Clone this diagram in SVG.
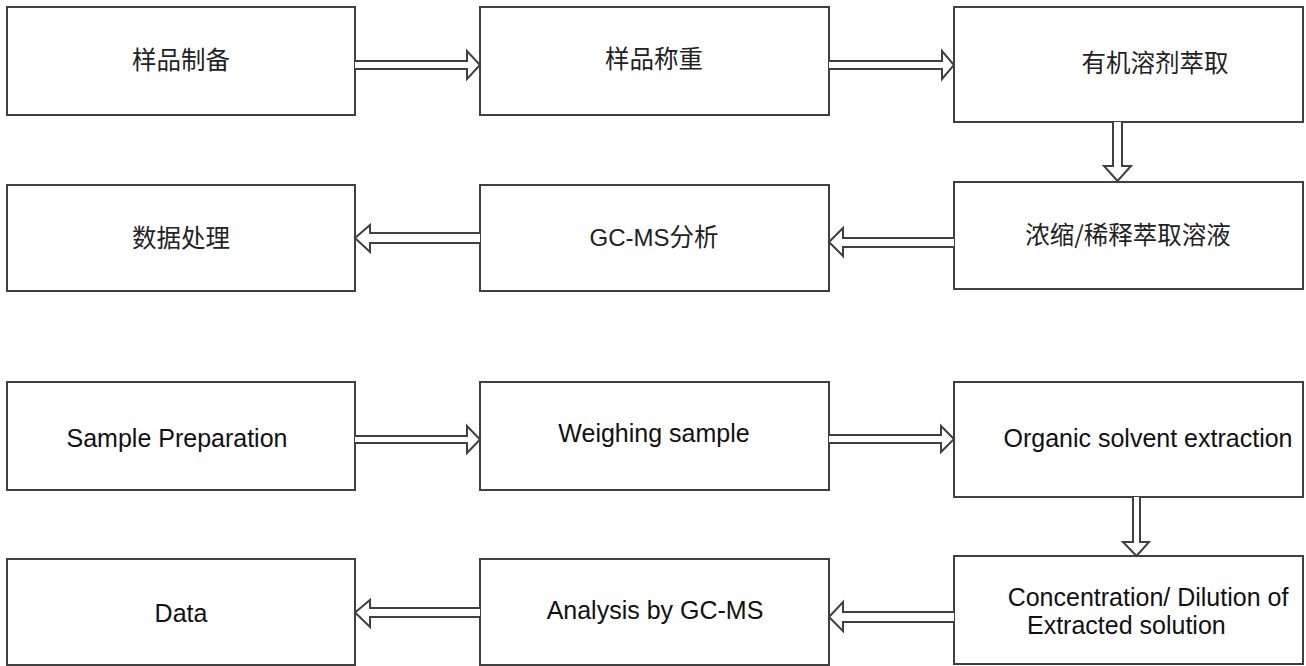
<svg xmlns="http://www.w3.org/2000/svg" width="1306" height="666" viewBox="0 0 1306 666">
<style>
.box{fill:#ffffff;stroke:#404040;stroke-width:2}
.arr{fill:#ffffff;stroke:#404040;stroke-width:2;stroke-linejoin:miter}
.zh{font-family:"Noto Sans CJK SC","Noto Sans CJK TC",sans-serif;font-size:24.5px;fill:#222222;text-anchor:middle}
.en{font-family:"Liberation Sans",Arial,sans-serif;font-size:25px;fill:#111111;text-anchor:middle}
</style>
<rect width="1306" height="666" fill="#ffffff"/>
<g id="n1"><rect class="box" x="7" y="7" width="348" height="108"/><text class="zh" x="181" y="69">样品制备</text></g>
<g id="n2"><rect class="box" x="480" y="7" width="349" height="108"/><text class="zh" x="654" y="68">样品称重</text></g>
<g id="n3"><rect class="box" x="954" y="7" width="349" height="115"/><text class="zh" x="1155" y="72">有机溶剂萃取</text></g>
<g id="n4"><rect class="box" x="7" y="185" width="348" height="106"/><text class="zh" x="181" y="247">数据处理</text></g>
<g id="n5"><rect class="box" x="480" y="185" width="349" height="106"/><text class="zh" x="654" y="246"><tspan font-family="Liberation Sans, Arial, sans-serif" font-size="24">GC-MS</tspan>分析</text></g>
<g id="n6"><rect class="box" x="954" y="182" width="349" height="107"/><text class="zh" x="1128" y="244">浓缩/稀释萃取溶液</text></g>
<g id="n7"><rect class="box" x="7" y="382" width="348" height="108"/><text class="en" x="177" y="447">Sample Preparation</text></g>
<g id="n8"><rect class="box" x="480" y="382" width="349" height="108"/><text class="en" x="654" y="442">Weighing sample</text></g>
<g id="n9"><rect class="box" x="954" y="382" width="349" height="115"/><text class="en" x="1148" y="447">Organic solvent extraction</text></g>
<g id="n10"><rect class="box" x="7" y="559" width="348" height="106"/><text class="en" x="181" y="622">Data</text></g>
<g id="n11"><rect class="box" x="480" y="559" width="349" height="106"/><text class="en" x="655" y="619">Analysis by GC-MS</text></g>
<g id="n12"><rect class="box" x="954" y="556" width="349" height="108"/><text class="en" x="1148" y="606">Concentration/ Dilution of</text><text class="en" x="1027" y="634" style="text-anchor:start">Extracted solution</text></g>
<g id="connectors">
<path class="arr" d="M355,61 H467 V51 L480,65 L467,79 V69 H355"/>
<path class="arr" d="M829,61 H942 V51 L954,65 L942,79 V69 H829"/>
<path class="arr" d="M1113,122 V166 H1104 L1117.5,181 L1131,166 H1122 V122"/>
<path class="arr" d="M954,238 H843 V228 L829,242 L843,256 V247 H954"/>
<path class="arr" d="M480,233 H370 V225 L355,238 L370,252 V243 H480"/>
<path class="arr" d="M355,436 H467 V426 L480,439.5 L467,453 V443 H355"/>
<path class="arr" d="M829,435 H941 V426 L954,439 L941,452 V443 H829"/>
<path class="arr" d="M1133,497 V542 H1123 L1136.5,556 L1149,542 H1140 V497"/>
<path class="arr" d="M954,612 H843 V602 L829,617 L843,631 V622 H954"/>
<path class="arr" d="M480,608 H370 V600 L355,612.5 L370,627 V617 H480"/>
</g>
</svg>
